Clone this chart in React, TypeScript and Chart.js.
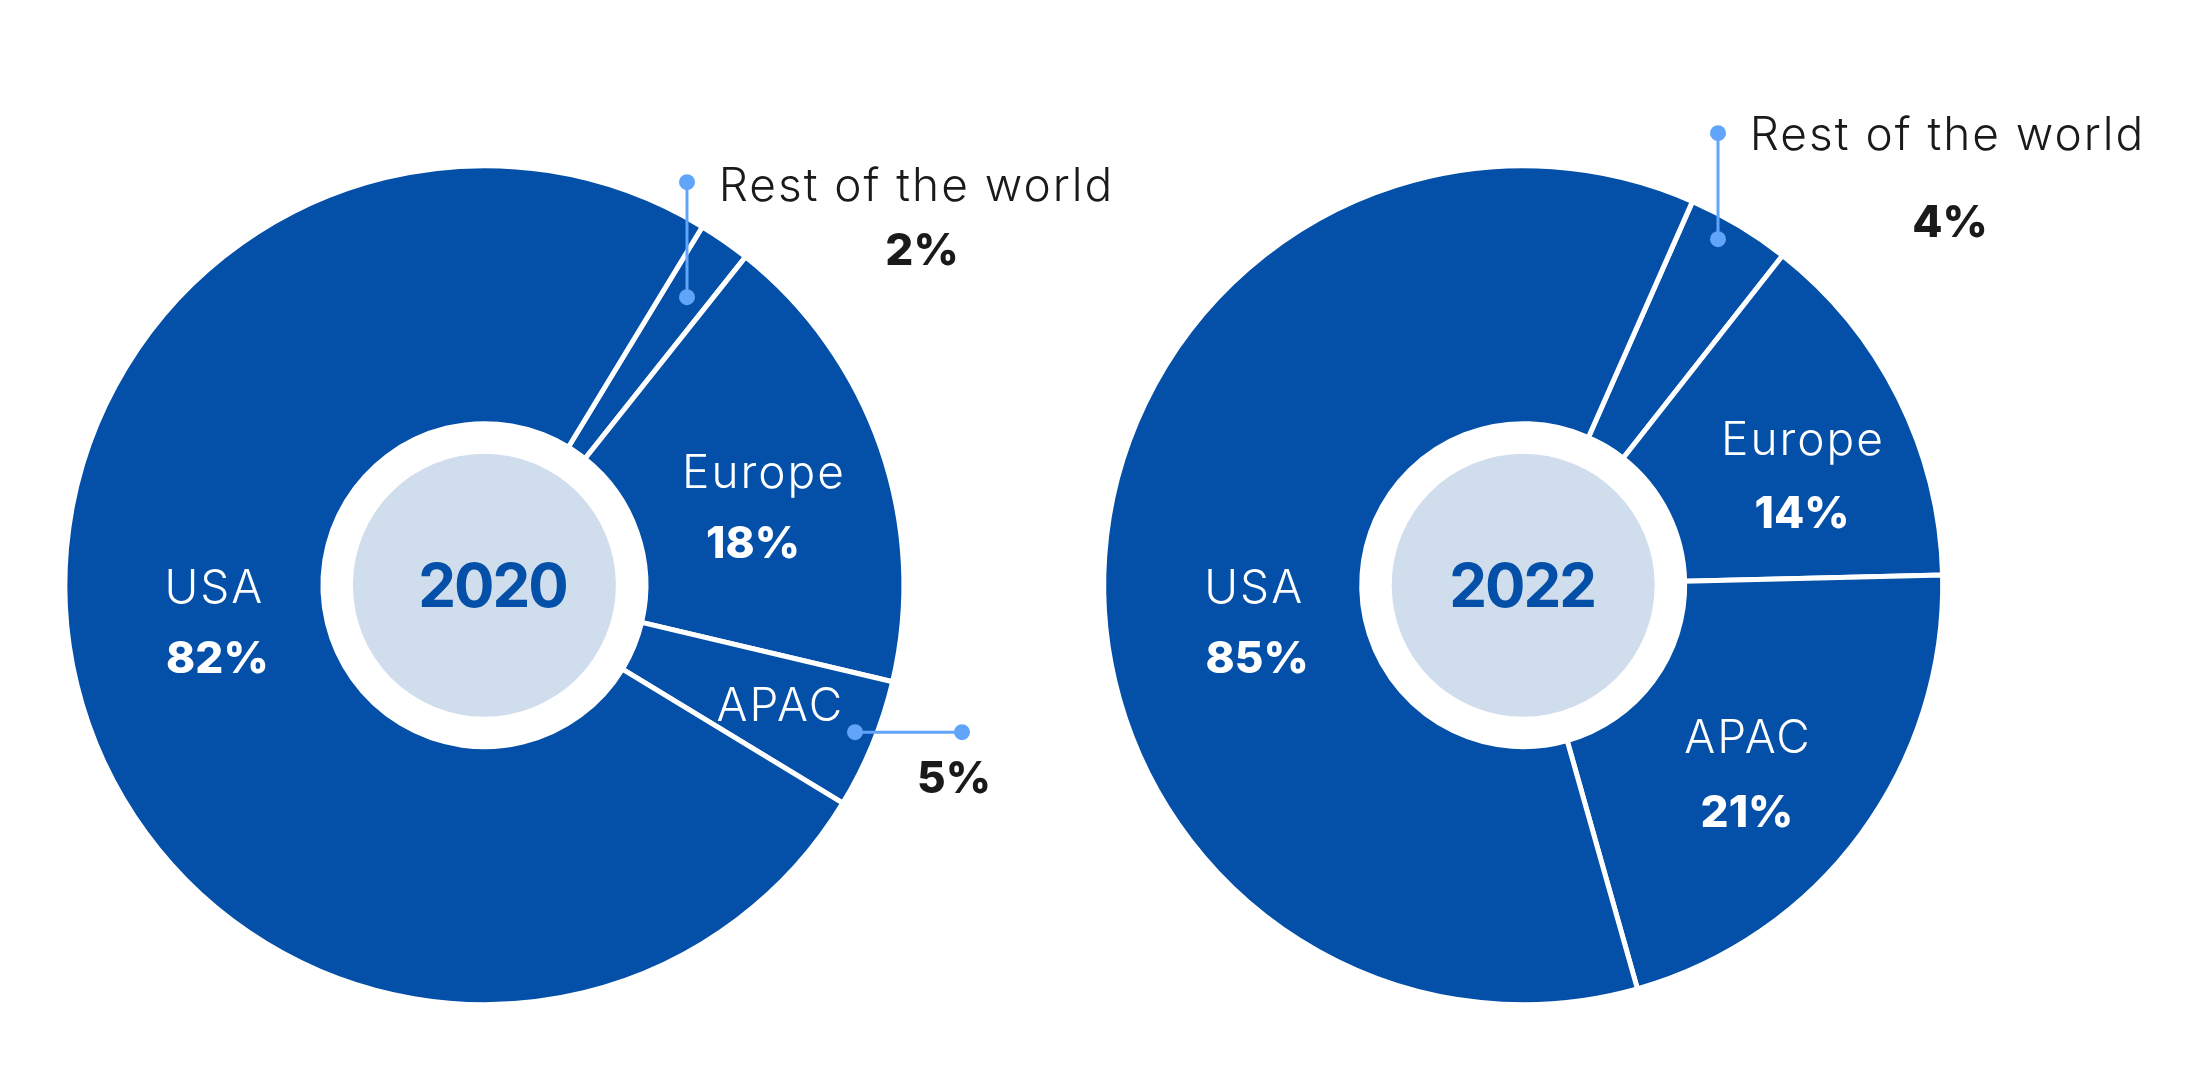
import { useEffect, useRef } from "react";
import { Chart, registerables } from "chart.js";

Chart.register(...registerables);

// ---- data -------------------------------------------------------------
const regions = ["Rest of the world", "Europe", "APAC", "USA"];
// angular share of each slice as drawn in the picture (per cent of the circle)
const sliceShare2020 = [2, 18, 5, 75];
const sliceShare2022 = [4, 14, 21, 61];
// printed value labels
const valueLabels2020 = ["2%", "18%", "5%", "82%"];
const valueLabels2022 = ["4%", "14%", "21%", "85%"];
const years = ["2020", "2022"];

// ---- style ------------------------------------------------------------
const BLUE = "#0450a8";
const LIGHT = "#cfdded";
const CALLOUT = "#60a5fa";
const DARK = "#1a1a1a";
const FONT = "Inter, 'Noto Sans', sans-serif";

const W = 2195;
const H = 1079;
const OUTER_R = 419.5;
const INNER_R = 161.5;
const DISC_R = 131.5;

type Txt = { text: string; dx: number; dy: number; bold: boolean; color: string };
type Callout = { x1: number; y1: number; x2: number; y2: number };
type Layout = {
  canvasLeft: number;
  canvasWidth: number;
  cx: number;
  cy: number;
  rotation: number;
  yearDx: number;
  texts: Txt[];
  callouts: Callout[];
};

function buildTexts(values: string[], pos: { name: [number, number, string]; value: [number, number, string] }[]): Txt[] {
  const out: Txt[] = [];
  pos.forEach((p, i) => {
    out.push({ text: regions[i], dx: p.name[0], dy: p.name[1], bold: false, color: p.name[2] });
    out.push({ text: values[i], dx: p.value[0], dy: p.value[1], bold: true, color: p.value[2] });
  });
  return out;
}

const layout2020: Layout = {
  canvasLeft: 0,
  canvasWidth: 1150,
  cx: 484.4,
  cy: 585.2,
  rotation: 31.3,
  yearDx: 9,
  texts: buildTexts(valueLabels2020, [
    { name: [431, -384, DARK], value: [437.6, -320, DARK] },
    { name: [278.6, -97, "#fff"], value: [268.6, -27, "#fff"] },
    { name: [295, 136, "#fff"], value: [469.6, 208, DARK] },
    { name: [-271, 18, "#fff"], value: [-267, 88, "#fff"] },
  ]),
  callouts: [
    { x1: 202.6, y1: -403, x2: 202.6, y2: -288 },
    { x1: 370.6, y1: 147, x2: 477.6, y2: 147 },
  ],
};

const layout2022: Layout = {
  canvasLeft: 1045,
  canvasWidth: 1150,
  cx: 1523.2,
  cy: 585.2,
  rotation: 23.8,
  yearDx: 0,
  texts: buildTexts(valueLabels2022, [
    { name: [423.3, -435, DARK], value: [426.8, -348, DARK] },
    { name: [278.8, -130, "#fff"], value: [278.8, -57, "#fff"] },
    { name: [223.8, 168, "#fff"], value: [223.8, 242, "#fff"] },
    { name: [-270, 18, "#fff"], value: [-266, 88, "#fff"] },
  ]),
  callouts: [{ x1: 194.8, y1: -452, x2: 194.8, y2: -346 }],
};

function DonutChart({ shares, year, layout }: { shares: number[]; year: string; layout: Layout }) {
  const ref = useRef<HTMLCanvasElement | null>(null);
  useEffect(() => {
    const canvas = ref.current;
    if (!canvas) return;
    const localCx = layout.cx - layout.canvasLeft;
    const half = 450;
    const plugin = {
      id: "donutAnnotations",
      afterDatasetsDraw(chart: any) {
        const arc = chart.getDatasetMeta(0).data[0] as any;
        const cx = arc.x;
        const cy = arc.y;
        const ctx = chart.ctx as any;
        ctx.save();
        // centre disc
        ctx.beginPath();
        ctx.arc(cx, cy, arc.innerRadius * (DISC_R / INNER_R), 0, Math.PI * 2);
        ctx.fillStyle = LIGHT;
        ctx.fill();
        // year
        ctx.fillStyle = BLUE;
        ctx.font = `700 60px ${FONT}`;
        ctx.textAlign = "center";
        ctx.textBaseline = "alphabetic";
        ctx.letterSpacing = "-2px";
        ctx.fillText(year, cx + layout.yearDx - 1, cy + 22);
        // callouts
        ctx.strokeStyle = CALLOUT;
        ctx.fillStyle = CALLOUT;
        ctx.lineWidth = 3;
        layout.callouts.forEach((c) => {
          ctx.beginPath();
          ctx.moveTo(cx + c.x1, cy + c.y1);
          ctx.lineTo(cx + c.x2, cy + c.y2);
          ctx.stroke();
          [
            [c.x1, c.y1],
            [c.x2, c.y2],
          ].forEach(([x, y]) => {
            ctx.beginPath();
            ctx.arc(cx + x, cy + y, 8, 0, Math.PI * 2);
            ctx.fill();
          });
        });
        // labels
        layout.texts.forEach((t) => {
          ctx.font = t.bold ? `800 44px ${FONT}` : `300 46px ${FONT}`;
          ctx.letterSpacing = t.bold ? "0px" : "2px";
          ctx.fillStyle = t.color;
          ctx.fillText(t.text, cx + t.dx + (t.bold ? 0 : 1), cy + t.dy);
        });
        ctx.restore();
      },
    };
    const chart = new Chart(canvas, {
      type: "doughnut",
      data: {
        labels: regions,
        datasets: [
          {
            data: shares,
            backgroundColor: BLUE,
            borderColor: "#ffffff",
            borderWidth: 5,
            hoverOffset: 0,
          },
        ],
      },
      options: {
        responsive: false,
        animation: false,
        rotation: layout.rotation,
        radius: OUTER_R,
        cutout: `${(INNER_R / OUTER_R) * 100}%`,
        layout: {
          padding: {
            left: localCx - half,
            right: layout.canvasWidth - (localCx + half),
            top: layout.cy - half,
            bottom: H - (layout.cy + half),
          },
        },
        plugins: {
          legend: { display: false },
          tooltip: { enabled: false },
        },
        events: [],
      },
      plugins: [plugin],
    } as any);
    return () => chart.destroy();
  }, [shares, year, layout]);
  return (
    <canvas
      ref={ref}
      width={layout.canvasWidth}
      height={H}
      style={{ position: "absolute", left: layout.canvasLeft, top: 0, width: layout.canvasWidth, height: H }}
    />
  );
}

export default function App() {
  useEffect(() => {
    document.body.style.margin = "0";
  }, []);
  return (
    <div style={{ position: "fixed", left: 0, top: 0, width: W, height: H, background: "#ffffff", overflow: "hidden" }}>
      <DonutChart shares={sliceShare2020} year={years[0]} layout={layout2020} />
      <DonutChart shares={sliceShare2022} year={years[1]} layout={layout2022} />
    </div>
  );
}
